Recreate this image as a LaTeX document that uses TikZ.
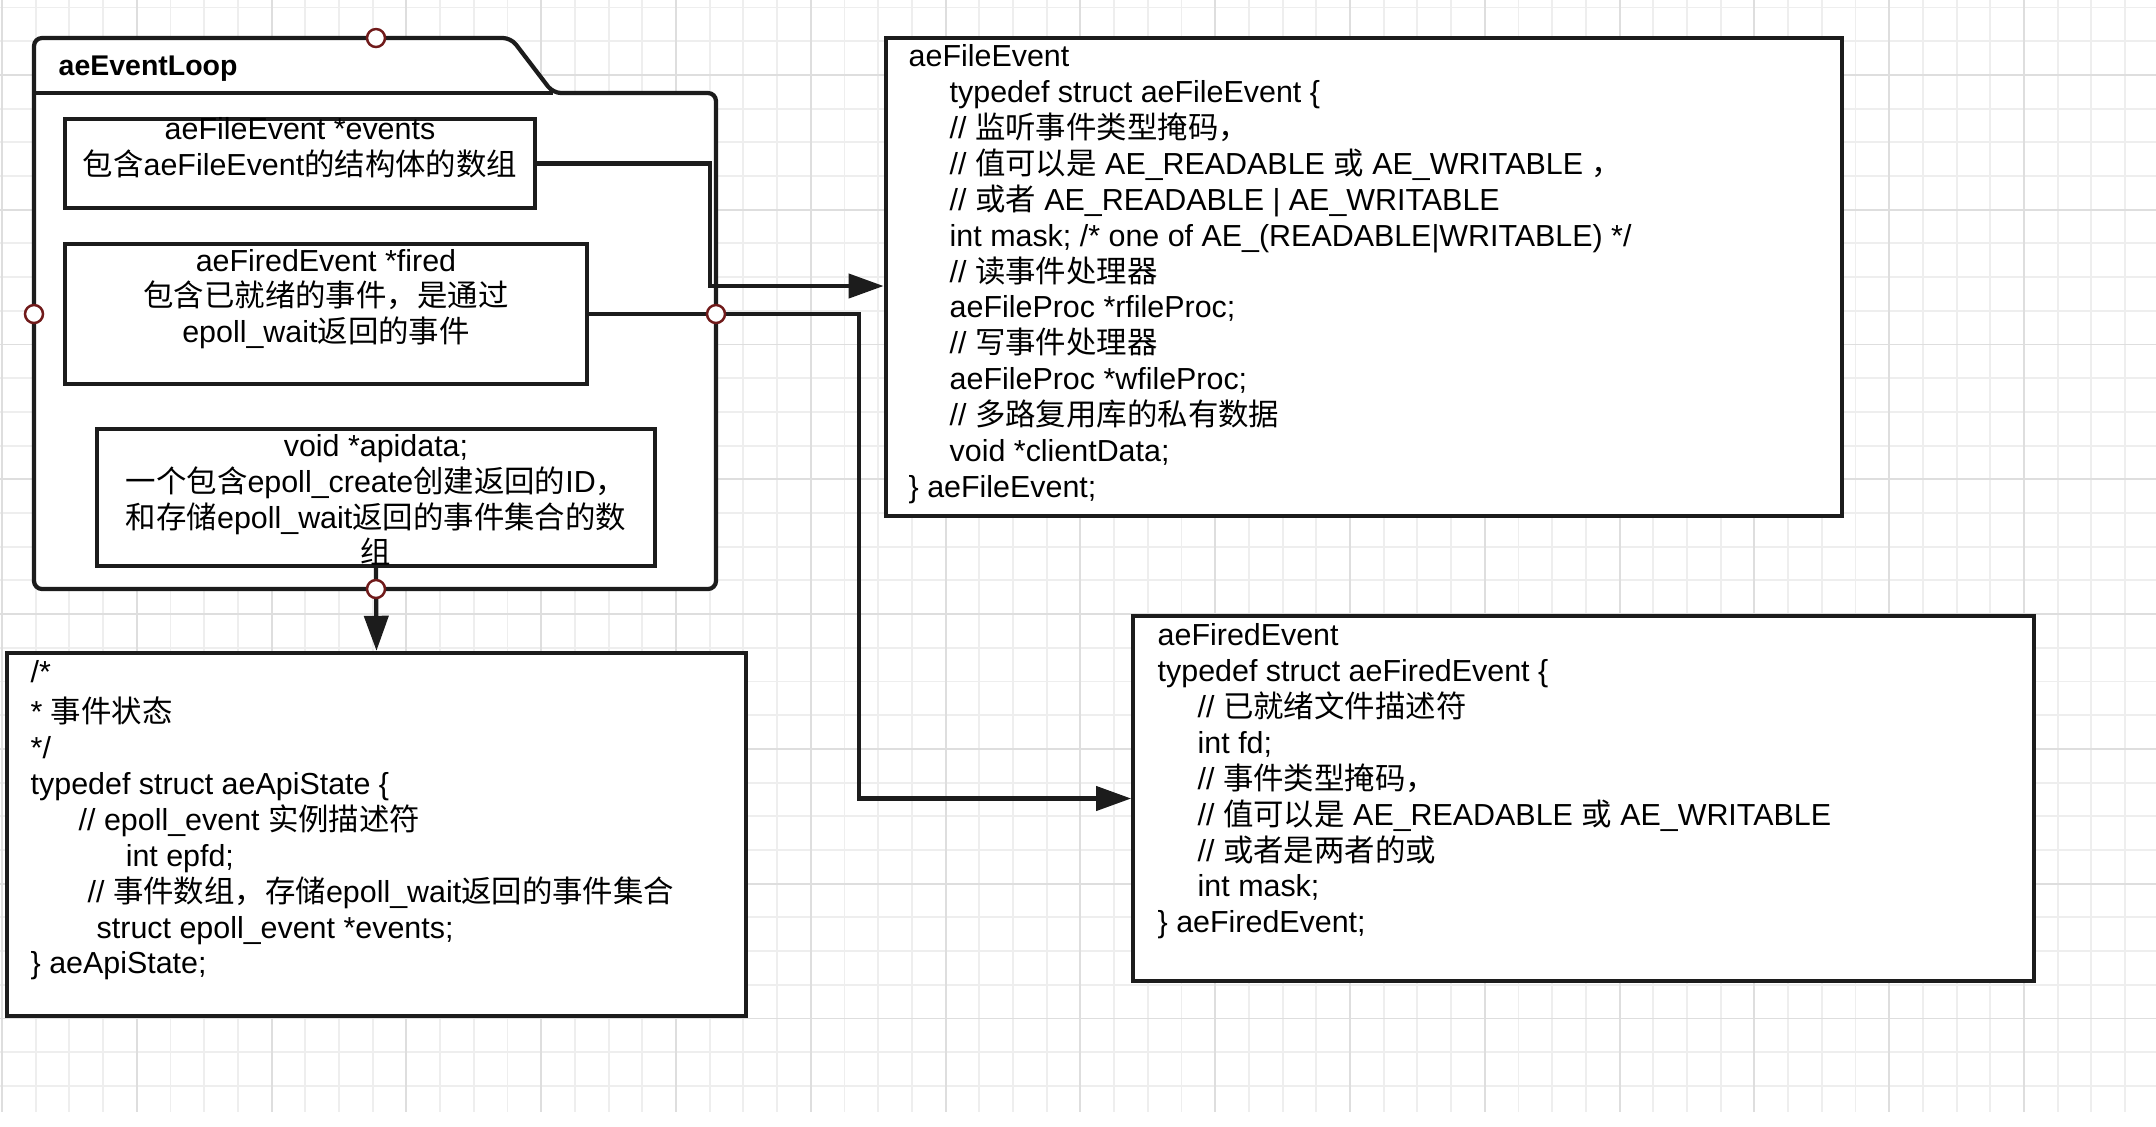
\documentclass[tikz,border=0pt]{standalone}
\usepackage{fontspec}
\setmainfont{Liberation Sans}
\newfontfamily\zhfont{Noto Sans CJK SC}
\newcommand{\zh}[1]{{\zhfont #1}}
\usetikzlibrary{arrows.meta, positioning, calc}
\definecolor{inkblack}{RGB}{28,28,28}
\definecolor{portred}{RGB}{112,26,26}
\definecolor{gridminor}{RGB}{238,238,238}
\definecolor{gridmajor}{RGB}{222,222,222}
\tikzset{
  codefont/.style={font=\fontsize{8.65pt}{10.2pt}\selectfont},
  box/.style={draw=inkblack, line width=1.2pt, fill=white, inner sep=0pt},
  boxtext/.style={codefont, align=center, inner sep=0pt},
  codetext/.style={codefont, align=left, inner sep=0pt, anchor=north west},
  conn/.style={draw=inkblack, line width=1.2pt},
  arrowconn/.style={conn, -{Triangle[length=0.35cm,width=0.24cm]}},
  port/.style={circle, draw=portred, fill=white, line width=0.7pt,
    minimum size=0.18cm, inner sep=0pt},
  minorline/.style={draw=gridminor, line width=0.55pt},
  majorline/.style={draw=gridmajor, line width=0.55pt}
}

\begin{document}
\begin{tikzpicture}[x=0.01cm, y=-0.01cm]
    % Canvas
    \fill[white] (0,0) rectangle (2156,1126);
    \useasboundingbox (0,0) rectangle (2156,1126);

    % Grid
    \begin{scope}
        \clip (0,0) rectangle (2156,1112);
        \foreach \i in {0,...,63}
            \draw[minorline] ({2+33.7*\i},0) -- ({2+33.7*\i},1112);
        \foreach \j in {0,...,32}
            \draw[minorline] (0,{7.5+33.7*\j}) -- (2156,{7.5+33.7*\j});
        \foreach \i in {0,...,15}
            \draw[majorline] ({2+134.8*\i},0) -- ({2+134.8*\i},1112);
        \foreach \j in {0,...,7}
            \draw[majorline] (0,{74.9+134.8*\j}) -- (2156,{74.9+134.8*\j});
    \end{scope}

    % aeEventLoop package
    \draw[conn, fill=white, rounded corners=0.08cm]
        (34,589) -- (34,38) -- (511,38) -- (553,93) -- (716,93) -- (716,589) -- cycle;
    \draw[conn] (34,93) -- (553,93);
    \node[font=\fontsize{8.1pt}{10pt}\selectfont\bfseries, anchor=west, inner sep=0pt] (loopTitle) at (58,69) {aeEventLoop};

    % Members inside the package
    \node[box, minimum width=4.70cm, minimum height=0.89cm] (events) at (300,163.5) {};
    \node[boxtext] (eventsTxt) at (300,148) {aeFileEvent *events\\\zh{包含}aeFileEvent\zh{的结构体的数组}};

    \node[box, minimum width=5.22cm, minimum height=1.40cm] (fired) at (326,314) {};
    \node[boxtext] (firedTxt) at (326,299) {aeFiredEvent *fired\\\zh{包含已就绪的事件，是通过}\\epoll\_wait\zh{返回的事件}};

    \node[box, minimum width=5.58cm, minimum height=1.37cm] (apidata) at (376,497.5) {};
    \node[boxtext] (apidataTxt) at (376,500) {void *apidata;\\\zh{一个包含}epoll\_create\zh{创建返回的}ID\zh{，}\\\zh{和存储}epoll\_wait\zh{返回的事件集合的数}\\\zh{组}};

    % Struct boxes
    \node[box, minimum width=9.56cm, minimum height=4.78cm] (fileev) at (1364,277) {};
    \node[codetext] (fileevTxt) at (908,41) {\strut aeFileEvent\\
        \hspace*{0.41cm}typedef struct aeFileEvent \{\\
        \hspace*{0.41cm}// \zh{监听事件类型掩码，}\\
        \hspace*{0.41cm}// \zh{值可以是} AE\_READABLE \zh{或} AE\_WRITABLE \zh{，}\\
        \hspace*{0.41cm}// \zh{或者} AE\_READABLE | AE\_WRITABLE\\
        \hspace*{0.41cm}int mask; /* one of AE\_(READABLE|WRITABLE) */\\
        \hspace*{0.41cm}// \zh{读事件处理器}\\
        \hspace*{0.41cm}aeFileProc *rfileProc;\\
        \hspace*{0.41cm}// \zh{写事件处理器}\\
        \hspace*{0.41cm}aeFileProc *wfileProc;\\
        \hspace*{0.41cm}// \zh{多路复用库的私有数据}\\
        \hspace*{0.41cm}void *clientData;\\
        \} aeFileEvent;};

    \node[box, minimum width=9.00cm, minimum height=3.65cm] (firedev) at (1583.5,798.5) {};
    \node[codetext] (firedevTxt) at (1157,620) {\strut aeFiredEvent\\
        typedef struct aeFiredEvent \{\\
        \hspace*{0.40cm}// \zh{已就绪文件描述符}\\
        \hspace*{0.40cm}int fd;\\
        \hspace*{0.40cm}// \zh{事件类型掩码，}\\
        \hspace*{0.40cm}// \zh{值可以是} AE\_READABLE \zh{或} AE\_WRITABLE\\
        \hspace*{0.40cm}// \zh{或者是两者的或}\\
        \hspace*{0.40cm}int mask;\\
        \} aeFiredEvent;};

    \node[box, minimum width=7.39cm, minimum height=3.63cm] (apistate) at (376.5,834.5) {};
    \node[codetext] (apistateTxt) at (30,657) {\strut /*\\
        * \zh{事件状态}\\
        */\\
        typedef struct aeApiState \{\\
        \hspace*{0.48cm}// epoll\_event \zh{实例描述符}\\
        \hspace*{0.95cm}int epfd;\\
        \hspace*{0.57cm}// \zh{事件数组，存储}epoll\_wait\zh{返回的事件集合}\\
        \hspace*{0.66cm}struct epoll\_event *events;\\
        \} aeApiState;};

    % Connectors
    \coordinate (bendFile) at (710,286);
    \coordinate (bendFired) at (859,0);
    \draw[arrowconn] (events.east) -| (bendFile) -- (bendFile -| fileev.west);
    \draw[arrowconn] (fired.east) -| (bendFired |- firedev.west) -- (firedev.west);
    \draw[arrowconn] (apidata.south) -- (apistate.north);

    % Ports
    \node[port] (portTop) at (376,38) {};
    \node[port] (portLeft) at (34,314) {};
    \node[port] (portRight) at (716,314) {};
    \node[port] (portBottom) at (376,589) {};
\end{tikzpicture}
\end{document}
